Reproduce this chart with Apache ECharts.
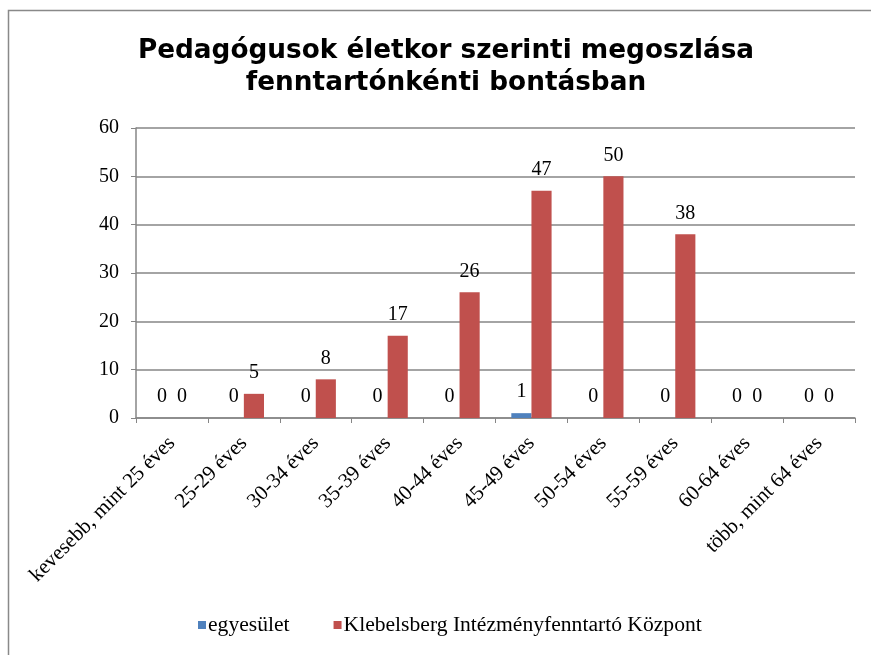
<!DOCTYPE html>
<html><head><meta charset="utf-8">
<script src="https://cdn.jsdelivr.net/npm/echarts@6/dist/echarts.min.js"></script>
<style>html,body{margin:0;padding:0;background:#fff}#c{width:871px;height:655px}</style>
</head><body><div id="c"></div>
<script>
const categories = ["kevesebb, mint 25 éves","25-29 éves","30-34 éves","35-39 éves","40-44 éves","45-49 éves","50-54 éves","55-59 éves","60-64 éves","több, mint 64 éves"];
const egyesulet = [0,0,0,0,0,1,0,0,0,0];
const kik = [0,5,8,17,26,47,50,38,0,0];
const seriesNames = ["egyesület","Klebelsberg Intézményfenntartó Központ"];
const titleText = "Pedagógusok életkor szerinti megoszlása\nfenntartónkénti bontásban";

const serif = "'Liberation Serif', 'DejaVu Serif', serif";
const chart = echarts.init(document.getElementById('c'), null, {renderer:'canvas'});
const labelStyle = {show:true, position:'top', distance:11, fontFamily:serif, fontSize:20, color:'#000'};
chart.setOption({
  animation:false,
  backgroundColor:'#fff',
  graphic:[{type:'rect', shape:{x:8.5,y:10.5,width:900,height:700}, style:{fill:'none', stroke:'#898989', lineWidth:1.5}, silent:true}],
  title:{text:titleText, left:441, top:30, textAlign:'center',
    textStyle:{fontFamily:"'DejaVu Sans', sans-serif", fontWeight:'bold', fontSize:26.3, lineHeight:32, color:'#000'}},
  legend:{bottom:14, left:193, itemWidth:8, itemHeight:8, itemGap:44, icon:'rect',
    textStyle:{fontFamily:serif, fontSize:21.6, color:'#000', padding:[0,0,0,-3]}},
  grid:{left:136, right:16, top:128, bottom:237},
  xAxis:{type:'category', data:categories,
    axisLine:{lineStyle:{color:'#868686', width:1.5}},
    axisTick:{show:true, length:5, lineStyle:{color:'#868686'}},
    axisLabel:{interval:0, rotate:45, margin:22, fontFamily:serif, fontSize:21, color:'#000'}},
  yAxis:{type:'value', min:0, max:60, interval:10,
    axisLine:{show:true, lineStyle:{color:'#868686', width:1.5}},
    axisTick:{show:true, length:5, lineStyle:{color:'#868686'}},
    splitLine:{lineStyle:{color:'#868686', width:1.5}},
    axisLabel:{margin:17, fontFamily:serif, fontSize:20, color:'#000'}},
  series:[
    {name:seriesNames[0], type:'bar', data:egyesulet, barGap:'0%', barCategoryGap:'44%', itemStyle:{color:'#4F81BD'}, label:labelStyle},
    {name:seriesNames[1], type:'bar', data:kik, barGap:'0%', barCategoryGap:'44%', itemStyle:{color:'#C0504D'}, label:labelStyle}
  ]
});
</script></body></html>
